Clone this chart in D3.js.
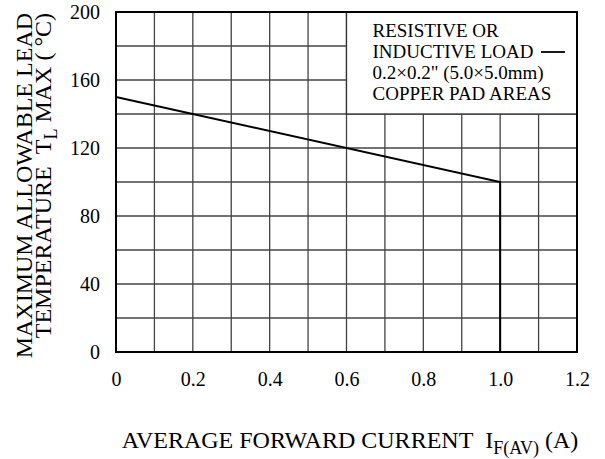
<!DOCTYPE html>
<html>
<head>
<meta charset="UTF-8">
<style>
  body { margin: 0; background: #fff; }
  text { font-family: "Liberation Serif", "Times New Roman", serif; fill: #000; }
</style>
</head>
<body>
<script src="https://cdn.jsdelivr.net/npm/d3@7"></script>
<script>
// derating curve: current (A) vs lead temperature (deg C)
var current = [0, 1.0, 1.0];
var tempMax = [150, 100, 0];

var xTicks = [0, 0.2, 0.4, 0.6, 0.8, 1.0, 1.2];
var xTickLabels = ["0", "0.2", "0.4", "0.6", "0.8", "1.0", "1.2"];
var yTicks = [0, 40, 80, 120, 160, 200];
var xGrid = d3.range(0, 13).map(function (i) { return i / 10; });
var yGrid = d3.range(0, 11).map(function (i) { return i * 20; });

var legendLines = ["RESISTIVE OR", "INDUCTIVE LOAD", "0.2\u00d70.2\" (5.0\u00d75.0mm)", "COPPER PAD AREAS"];

var margin = {top: 12, right: 28, bottom: 107, left: 116},
    width = 605 - margin.left - margin.right,
    height = 459 - margin.top - margin.bottom;

var x = d3.scaleLinear().domain([0, 1.2]).range([0, width]);
var y = d3.scaleLinear().domain([0, 200]).range([height, 0]);

var svg = d3.select("body").append("svg")
    .attr("width", 605)
    .attr("height", 459);

var g = svg.append("g")
    .attr("transform", "translate(" + margin.left + "," + margin.top + ")");

// grid
g.selectAll(".vgrid")
    .data(xGrid)
    .enter().append("line")
    .attr("x1", function (d) { return x(d); })
    .attr("x2", function (d) { return x(d); })
    .attr("y1", 0).attr("y2", height)
    .style("stroke", "#444")
    .style("stroke-width", 1.3);

g.selectAll(".hgrid")
    .data(yGrid)
    .enter().append("line")
    .attr("x1", 0).attr("x2", width)
    .attr("y1", function (d) { return y(d); })
    .attr("y2", function (d) { return y(d); })
    .style("stroke", "#444")
    .style("stroke-width", 1.3);

// legend box sits on the grid, top right
g.append("rect")
    .attr("x", x(0.6))
    .attr("y", y(200))
    .attr("width", x(1.2) - x(0.6))
    .attr("height", y(140) - y(200))
    .style("fill", "#fff")
    .style("stroke", "#333")
    .style("stroke-width", 1.3);

g.selectAll(".leg")
    .data(legendLines)
    .enter().append("text")
    .attr("x", x(0.6) + 26)
    .attr("y", function (d, i) { return 25 + i * 21; })
    .style("font-size", "19px")
    .text(function (d) { return d; });

g.append("line")
    .attr("x1", x(1.2) - 36).attr("x2", x(1.2) - 12)
    .attr("y1", 40).attr("y2", 40)
    .style("stroke", "#000")
    .style("stroke-width", 1.8);

// frame
g.append("rect")
    .attr("width", width)
    .attr("height", height)
    .style("fill", "none")
    .style("stroke", "#000")
    .style("stroke-width", 2);

// curve
var line = d3.line()
    .x(function (d, i) { return x(current[i]); })
    .y(function (d, i) { return y(tempMax[i]); });

g.append("path")
    .datum(current)
    .attr("d", line)
    .style("fill", "none")
    .style("stroke", "#000")
    .style("stroke-width", 2);

// axes (labels only)
var xAxis = g.append("g")
    .attr("transform", "translate(0," + height + ")")
    .call(d3.axisBottom(x).tickValues(xTicks).tickSize(0).tickPadding(20)
        .tickFormat(function (d, i) { return xTickLabels[i]; }));
xAxis.select(".domain").remove();
xAxis.selectAll("text").style("font-size", "20px").style("font-family", "Liberation Serif");

var yAxis = g.append("g")
    .call(d3.axisLeft(y).tickValues(yTicks).tickSize(0).tickPadding(16));
yAxis.select(".domain").remove();
yAxis.selectAll("text").style("font-size", "20px").style("font-family", "Liberation Serif");

// x title
var xt = svg.append("text")
    .attr("x", 350)
    .attr("y", 448)
    .attr("text-anchor", "middle")
    .style("font-size", "24px");
xt.append("tspan").text("AVERAGE FORWARD CURRENT\u00a0\u00a0I");
xt.append("tspan").attr("dy", 6).style("font-size", "18px").text("F(AV)");
xt.append("tspan").attr("dy", -6).text(" (A)");

// y title, two lines, both ending at the top
var yt = svg.append("text")
    .attr("transform", "translate(32,13) rotate(-90)")
    .attr("text-anchor", "end")
    .style("font-size", "24px")
    .text("MAXIMUM ALLOWABLE LEAD");

var yt2 = svg.append("text")
    .attr("transform", "translate(51,13) rotate(-90)")
    .attr("text-anchor", "end")
    .style("font-size", "24px");
yt2.append("tspan").text("TEMPERATURE\u00a0\u00a0T");
yt2.append("tspan").attr("dy", 6).style("font-size", "18px").text("L");
yt2.append("tspan").attr("dy", -6).text(" MAX ( \u00b0C)");
</script>
</body>
</html>
